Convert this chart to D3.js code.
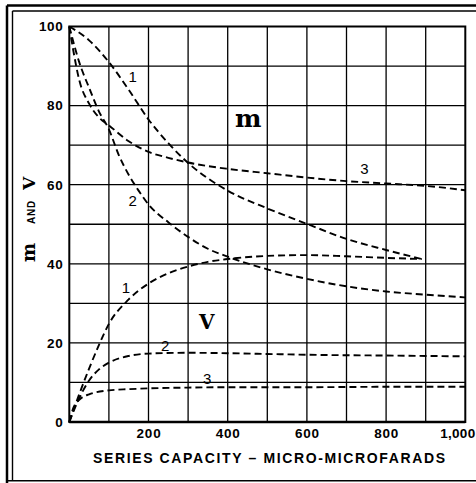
<!DOCTYPE html>
<html><head><meta charset="utf-8">
<script src="https://cdn.jsdelivr.net/npm/d3@7"></script>
<style>
html,body{margin:0;padding:0;background:#fff;overflow:hidden;}
svg{display:block;}
</style></head>
<body>
<svg id="c" width="476" height="483"></svg>
<script>
// ---- data ----
const xTickValues = [200, 400, 600, 800, 1000];
const xTickLabels = ["200", "400", "600", "800", "1,000"];
const yTickValues = [0, 20, 40, 60, 80, 100];
const xGrid = [100, 200, 300, 400, 500, 600, 700, 800, 900];
const yGrid = [10, 20, 30, 40, 50, 60, 70, 80, 90];

const mX1 = [0, 50, 100, 150, 200, 250, 300, 400, 500, 600, 700, 800, 890];
const mY1 = [100, 96.5, 91, 84, 76.5, 70.5, 65.5, 58.5, 54, 50.1, 46.3, 43.5, 41.2];
const mX2 = [0, 25, 50, 75, 100, 125, 150, 175, 200, 250, 300, 350, 400, 500, 600, 700, 800, 900, 1000];
const mY2 = [100, 91, 84.5, 78.5, 74, 67.5, 62.5, 58.5, 55, 50.5, 46.8, 43.8, 41.8, 38.6, 36.2, 34.3, 33, 32.2, 31.5];
const mX3 = [0, 10, 25, 50, 75, 100, 150, 200, 250, 300, 400, 500, 600, 700, 800, 900, 1000];
const mY3 = [100, 94, 86.5, 80.5, 77, 75, 71, 68.3, 66.8, 65.6, 64, 62.9, 61.8, 60.9, 60.3, 59.7, 58.6];

const vX1 = [0, 25, 50, 75, 100, 150, 200, 250, 300, 350, 400, 500, 600, 700, 800, 890];
const vY1 = [0, 7, 13.5, 19.5, 24.8, 31, 35, 37.6, 39.3, 40.5, 41.2, 42, 42.2, 41.9, 41.5, 41.2];
const vX2 = [0, 25, 50, 75, 100, 150, 200, 300, 400, 500, 600, 800, 1000];
const vY2 = [0, 6, 10.5, 13.3, 15, 16.7, 17.3, 17.5, 17.4, 17.2, 17, 16.8, 16.6];
const vX3 = [0, 10, 25, 50, 100, 150, 200, 300, 400, 600, 800, 1000];
const vY3 = [0, 3.5, 5.6, 7, 8, 8.3, 8.5, 8.7, 8.8, 8.8, 8.9, 8.9];

// curve labels: [x value, y value, text]
const curveLabels = [
  [160, 86, "1"], [160, 54.5, "2"], [745, 62.6, "3"],
  [143, 32.5, "1"], [242, 18, "2"], [348, 9.7, "3"]
];

// ---- drawing ----
const svg = d3.select("#c");
const x = d3.scaleLinear().domain([0, 1000]).range([69.3, 465.3]);
const y = d3.scaleLinear().domain([0, 100]).range([422, 26.5]);

// frame
svg.append("line").attr("x1", 7).attr("y1", 5.5).attr("x2", 476).attr("y2", 5.5).attr("stroke", "#000").attr("stroke-width", 2.5);
svg.append("line").attr("x1", 7).attr("y1", 5.5).attr("x2", 7).attr("y2", 483).attr("stroke", "#000").attr("stroke-width", 2.5);
svg.append("line").attr("x1", 12.5).attr("y1", 11).attr("x2", 476).attr("y2", 11).attr("stroke", "#000").attr("stroke-width", 1.4);
svg.append("line").attr("x1", 12.5).attr("y1", 11).attr("x2", 12.5).attr("y2", 481).attr("stroke", "#000").attr("stroke-width", 1.4);
svg.append("line").attr("x1", 7).attr("y1", 480.8).attr("x2", 476).attr("y2", 480.8).attr("stroke", "#000").attr("stroke-width", 1.6);

// grid
const g = svg.append("g");
g.selectAll(".vg").data(xGrid).join("line")
  .attr("x1", d => x(d)).attr("x2", d => x(d)).attr("y1", y(100)).attr("y2", y(0))
  .attr("stroke", "#000").attr("stroke-width", 1.3);
g.selectAll(".hg").data(yGrid).join("line")
  .attr("y1", d => y(d)).attr("y2", d => y(d)).attr("x1", x(0)).attr("x2", x(1000))
  .attr("stroke", "#000").attr("stroke-width", 1.3);
g.append("rect").attr("x", x(0)).attr("y", y(100)).attr("width", x(1000) - x(0)).attr("height", y(0) - y(100))
  .attr("fill", "none").attr("stroke", "#000").attr("stroke-width", 2);
g.append("line").attr("x1", x(0)).attr("x2", x(1000)).attr("y1", y(0)).attr("y2", y(0)).attr("stroke", "#000").attr("stroke-width", 2.6);

// axes
const tickFont = "'Liberation Sans', Arial, sans-serif";
const ax = svg.append("g").attr("transform", `translate(0,${y(0)})`)
  .call(d3.axisBottom(x).tickValues(xTickValues).tickFormat((d, i) => xTickLabels[i]).tickSize(0).tickPadding(6));
ax.select(".domain").remove();
ax.selectAll("text").attr("font-family", tickFont).attr("font-weight", "bold").attr("font-size", 13.5)
  .attr("fill", "#000").attr("letter-spacing", 0.8).attr("dy", "0.71em");
// keep the last label inside the window
ax.selectAll(".tick").filter(d => d === 1000).select("text")
  .attr("text-anchor", "end").attr("x", 476 - 1 - x(1000)).attr("letter-spacing", 0.3);

const ay = svg.append("g").attr("transform", `translate(${x(0)},0)`)
  .call(d3.axisLeft(y).tickValues(yTickValues).tickFormat(d3.format("d")).tickSize(0).tickPadding(6));
ay.select(".domain").remove();
ay.selectAll("text").attr("font-family", tickFont).attr("font-weight", "bold").attr("font-size", 13.5)
  .attr("fill", "#000").attr("letter-spacing", 0.6);

// curves
const line = d3.line().x(d => x(d[0])).y(d => y(d[1])).curve(d3.curveMonotoneX);
const series = [[mX1, mY1], [mX2, mY2], [mX3, mY3], [vX1, vY1], [vX2, vY2], [vX3, vY3]];
svg.append("g").selectAll("path").data(series).join("path")
  .attr("d", s => line(s[0].map((v, i) => [v, s[1][i]])))
  .attr("fill", "none").attr("stroke", "#000").attr("stroke-width", 1.9).attr("stroke-dasharray", "7,4");

// curve number labels
svg.append("g").selectAll("text").data(curveLabels).join("text")
  .attr("x", d => x(d[0])).attr("y", d => y(d[1]))
  .attr("text-anchor", "middle").attr("font-family", tickFont).attr("font-size", 15).attr("fill", "#000")
  .text(d => d[2]);

// m and V labels
const serif = "'DejaVu Serif', 'Liberation Serif', serif";
svg.append("text").attr("x", 235).attr("y", 127).attr("font-family", serif).attr("font-weight", "bold")
  .attr("font-size", 25).attr("fill", "#000").text("m");
svg.append("text").attr("x", 199).attr("y", 329).attr("font-family", serif).attr("font-weight", "bold")
  .attr("font-size", 20).attr("fill", "#000").text("V");

// y title
const yt = svg.append("text").attr("transform", "translate(35,262) rotate(-90)").attr("fill", "#000");
yt.append("tspan").attr("font-family", serif).attr("font-weight", "bold").attr("font-size", 18).text("m");
yt.append("tspan").attr("dx", 19).attr("font-family", tickFont).attr("font-weight", "bold").attr("font-size", 10).attr("letter-spacing", 0.8).text("AND");
yt.append("tspan").attr("dx", 10).attr("font-family", serif).attr("font-weight", "bold").attr("font-size", 17).text("V");

// x title
svg.append("text").attr("x", 93).attr("y", 463).attr("font-family", tickFont).attr("font-weight", "bold")
  .attr("font-size", 14).attr("fill", "#000").attr("textLength", 352).attr("lengthAdjust", "spacing")
  .text("SERIES  CAPACITY – MICRO-MICROFARADS");
</script>
</body></html>
